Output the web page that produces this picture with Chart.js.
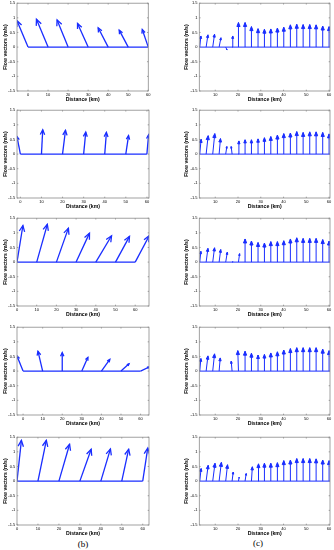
<!DOCTYPE html>
<html><head><meta charset="utf-8">
<script src="https://cdn.jsdelivr.net/npm/chart.js@4.4.0/dist/chart.umd.min.js"></script>
<style>
html,body{margin:0;padding:0;background:#fff;width:334px;height:550px;overflow:hidden;position:relative;}
canvas{position:absolute;}
.lab{position:absolute;width:24px;text-align:center;font-family:"Liberation Serif","DejaVu Serif",serif;font-size:9px;line-height:10px;color:#000;}
</style></head><body>
<div class="lab" style="left:71px;top:539px">(b)</div>
<div class="lab" style="left:246px;top:538px">(c)</div>
<script>
// ---- data: panel column (b) ----
const bStations = [0, 10, 20, 30, 40, 50, 60];
const b1U = [-5.5, -5.8, -5.5, -5.3, -5.0, -4.5, -3.0];
const b1V = [0.90, 0.95, 0.93, 0.81, 0.66, 0.58, 0.60];
const b2U = [-1.6, 0.6, 1.4, 1.0, 0.8, 1.3, 0.8];
const b2V = [0.60, 0.83, 0.81, 0.75, 0.74, 0.63, 0.66];
const b3U = [3.0, 5.4, 6.1, 6.8, 8.0, 7.1, 7.1];
const b3V = [1.25, 1.29, 1.16, 0.99, 0.90, 0.88, 0.90];
const b4U = [-3.1, -2.4, 0.0, 3.1, 4.3, 4.1, 4.3];
const b4V = [0.52, 0.68, 0.63, 0.47, 0.40, 0.25, 0.14];
const b5U = [2.1, 4.0, 5.1, 5.4, 4.6, 3.3, 2.4];
const b5V = [1.39, 1.39, 1.26, 1.09, 1.10, 1.09, 1.13];
const bXRanges = [[-5.5, 60], [-1.6, 61], [0, 67], [-3.1, 64.3], [0, 63]];

// ---- data: panel column (c) ----
const cStations = [3.2, 6.0, 8.9, 11.7, 14.6, 17.4, 20.2, 23.1, 25.9, 28.8, 31.6, 34.4, 37.3, 40.1, 43.0, 45.8, 48.6, 51.5, 54.3, 57.2, 60.0];
const c1U = [0.5, 0.8, 0.8, 0.8, 0.6, 0.3, 0, 0, 0, 0, 0, 0, 0, 0, 0, 0, 0, 0, 0, 0, 0];
const c1V = [0.38, 0.42, 0.44, 0.32, -0.10, 0.38, 0.84, 0.84, 0.70, 0.63, 0.61, 0.62, 0.65, 0.68, 0.76, 0.78, 0.77, 0.77, 0.76, 0.72, 0.70];
const c2U = [0.6, 0.9, 0.9, 0.6, 0.5, -0.4, 0.2, 0, 0, 0, 0, 0, 0, 0, 0, 0, 0, 0, 0, 0, 0];
const c2V = [0.51, 0.63, 0.70, 0.53, 0.26, 0.26, 0.45, 0.49, 0.49, 0.52, 0.56, 0.60, 0.65, 0.70, 0.72, 0.77, 0.74, 0.76, 0.76, 0.74, 0.69];
const c3U = [0.5, 0.8, 0.8, 0.7, 0.7, 0.3, 0.5, 0, 0, 0, 0, 0, 0, 0, 0, 0, 0, 0, 0, 0, 0];
const c3V = [0.37, 0.47, 0.49, 0.43, 0.34, 0.03, 0.29, 0.79, 0.72, 0.67, 0.65, 0.70, 0.70, 0.73, 0.79, 0.83, 0.81, 0.81, 0.81, 0.77, 0.72];
const c4U = [0.5, 0.8, 0.8, 0.5, 0, -0.4, -0.3, 0, 0, 0, 0, 0, 0, 0, 0, 0, 0, 0, 0, 0, 0];
const c4V = [0.43, 0.52, 0.59, 0.45, 0.0, 0.34, 0.70, 0.68, 0.61, 0.55, 0.57, 0.62, 0.66, 0.72, 0.77, 0.80, 0.80, 0.80, 0.80, 0.75, 0.70];
const c5U = [0.6, 0.9, 1.0, 1.0, 0.8, 0.5, 0.3, 0.5, 0.4, 0.2, 0, 0, 0, 0, 0, 0, 0, 0, 0, 0, 0];
const c5V = [0.43, 0.54, 0.61, 0.64, 0.56, 0.31, 0.13, 0.26, 0.49, 0.59, 0.61, 0.61, 0.63, 0.70, 0.72, 0.77, 0.77, 0.77, 0.76, 0.72, 0.70];
const cXRange = [3, 60.4];

// ---- tick labels ----
const yTicks = [-1.5, -1, -0.5, 0, 0.5, 1, 1.5];
const bXTicks = [0, 10, 20, 30, 40, 50, 60];
const cXTicks = [10, 20, 30, 40, 50, 60];
const xTitle = 'Distance (km)';
const yTitle = 'Flow vectors (m/s)';

const FONT = '"Liberation Sans", Arial, sans-serif';
const BLUE = 'rgb(25,45,255)';

const frame = {
  id: 'frame',
  afterDatasetsDraw(chart) {
    const ctx = chart.ctx, a = chart.chartArea;
    ctx.save();
    ctx.beginPath();
    ctx.rect(a.left, a.top, a.right - a.left, a.bottom - a.top);
    ctx.clip();
    chart.data.datasets.forEach((ds, i) => {
      if (!ds.arrow) return;
      const pts = chart.getDatasetMeta(i).data;
      const p0 = pts[0], p1 = pts[1];
      const dx = p1.x - p0.x, dy = p1.y - p0.y, len = Math.hypot(dx, dy);
      if (len < 1.5) return;
      const ux = dx / len, uy = dy / len;
      const hl = Math.min(ds.headFrac * len, ds.headMax), hw = hl * ds.headW;
      ctx.strokeStyle = ds.borderColor;
      ctx.fillStyle = ds.borderColor;
      ctx.lineWidth = ds.borderWidth;
      ctx.beginPath();
      ctx.moveTo(p1.x - ux * hl - uy * hw, p1.y - uy * hl + ux * hw);
      ctx.lineTo(p1.x, p1.y);
      ctx.lineTo(p1.x - ux * hl + uy * hw, p1.y - uy * hl - ux * hw);
      if (ds.headFill) { ctx.closePath(); ctx.fill(); }
      ctx.stroke();
    });
    ctx.restore();
    ctx.save();
    ctx.strokeStyle = '#8a8a8a';
    ctx.lineWidth = 0.8;
    ctx.strokeRect(a.left, a.top, a.right - a.left, a.bottom - a.top);
    const xs = chart.scales.x, ys = chart.scales.y;
    ctx.beginPath();
    xs.ticks.forEach((t, k) => {
      const px = xs.getPixelForTick(k);
      ctx.moveTo(px, a.bottom); ctx.lineTo(px, a.bottom - 1.3);
      ctx.moveTo(px, a.top); ctx.lineTo(px, a.top + 1.3);
    });
    ys.ticks.forEach((t, k) => {
      const py = ys.getPixelForTick(k);
      ctx.moveTo(a.left, py); ctx.lineTo(a.left + 1.3, py);
      ctx.moveTo(a.right, py); ctx.lineTo(a.right - 1.3, py);
    });
    ctx.stroke();
    ctx.restore();
  }
};

function makePanel(left, top, width, height, yAxisW, yTitlePad, stations, U, V, xr, xTicks, base, lw, head) {
  const cv = document.createElement('canvas');
  cv.width = width; cv.height = height;
  cv.style.left = left + 'px'; cv.style.top = top + 'px';
  cv.style.width = width + 'px'; cv.style.height = height + 'px';
  document.body.appendChild(cv);
  const datasets = [{
    data: [{x: base[0], y: 0}, {x: base[1], y: 0}],
    showLine: true, borderColor: BLUE, borderWidth: lw, pointRadius: 0
  }];
  stations.forEach((s, i) => {
    datasets.push(Object.assign({
      data: [{x: s, y: 0}, {x: s + U[i], y: V[i]}],
      showLine: true, borderColor: BLUE, borderWidth: lw, pointRadius: 0,
      arrow: true
    }, head));
  });
  new Chart(cv, {
    type: 'scatter',
    data: {datasets},
    options: {
      responsive: false, animation: false, devicePixelRatio: 1,
      layout: {padding: {left: 0, right: 3, top: 4, bottom: 1}},
      plugins: {legend: {display: false}, tooltip: {enabled: false}},
      scales: {
        x: {
          type: 'linear', min: xr[0], max: xr[1],
          afterBuildTicks: s => { s.ticks = xTicks.map(v => ({value: v})); },
          afterFit: s => { s.height = 12; },
          grid: {display: false, drawTicks: false}, border: {display: false},
          ticks: {font: {size: 4, family: FONT}, color: '#000', padding: 1.5, maxRotation: 0, autoSkip: false, callback: v => String(v)},
          title: {display: true, text: xTitle, font: {size: 5.2, weight: 'bold', family: FONT}, color: '#000', padding: 0}
        },
        y: {
          type: 'linear', min: -1.5, max: 1.5,
          afterBuildTicks: s => { s.ticks = yTicks.map(v => ({value: v})); },
          afterFit: s => { s.width = yAxisW; },
          grid: {display: false, drawTicks: false}, border: {display: false},
          ticks: {font: {size: 4, family: FONT}, color: '#000', padding: 1.8, autoSkip: false, callback: v => String(v)},
          title: {display: true, text: yTitle, font: {size: 5.2, weight: 'bold', family: FONT}, color: '#000', padding: {top: yTitlePad, bottom: 0}}
        }
      }
    },
    plugins: [frame]
  });
}

const rowTops = [3, 110, 218, 327, 437];
const bU = [b1U, b2U, b3U, b4U, b5U], bV = [b1V, b2V, b3V, b4V, b5V];
const cU = [c1U, c2U, c3U, c4U, c5U], cV = [c1V, c2V, c3V, c4V, c5V];
rowTops.forEach((t, r) => {
  makePanel(0, t - 4, 152, 105, 17, 2, bStations, bU[r], bV[r], bXRanges[r], bXTicks, [0, 60], 1.3,
    {headFrac: 0.2, headMax: 6, headW: 0.45, headFill: false});
  makePanel(180, t - 4, 153, 105, 19.3, 3, cStations, cU[r], cV[r], cXRange, cXTicks, cXRange, 1.0,
    {headFrac: 0.22, headMax: 4, headW: 0.4, headFill: true});
});
</script>
</body></html>
